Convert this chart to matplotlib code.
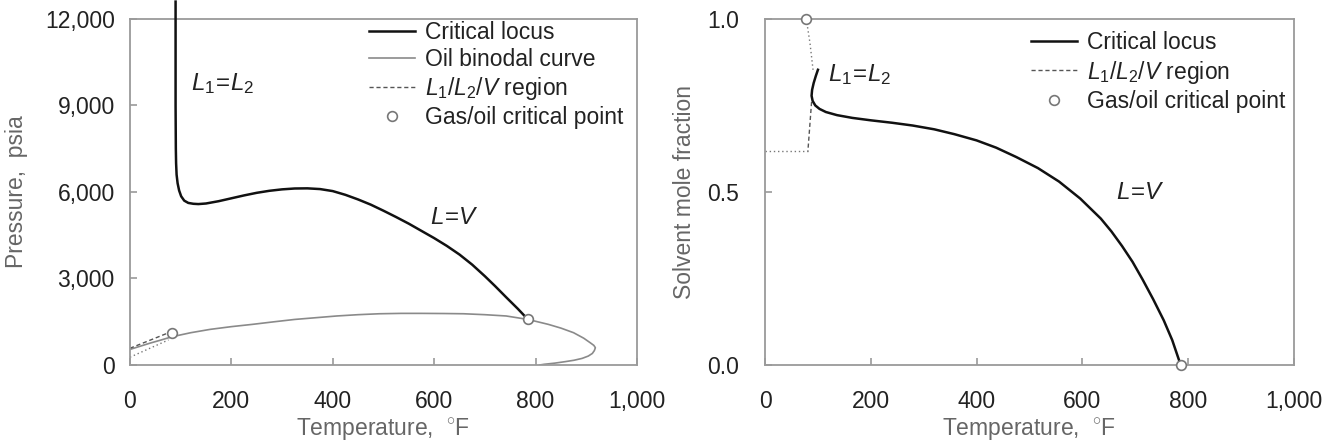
import numpy as np
import matplotlib
matplotlib.use("Agg")
import matplotlib.pyplot as plt
from matplotlib.ticker import FuncFormatter

plt.rcParams['font.family'] = ['Liberation Sans', 'DejaVu Sans']
plt.rcParams['mathtext.fontset'] = 'custom'
plt.rcParams['mathtext.rm'] = 'Liberation Sans'
plt.rcParams['mathtext.it'] = 'Liberation Sans:italic'

# Pressure-temperature projection
pt_locus_T = [90, 90, 90, 90.5, 91, 92, 94, 97, 101, 107, 115, 125, 135, 150, 175, 200, 225,
              250, 275, 300, 325, 350, 375, 400, 425, 450, 475, 500, 525, 550, 575, 600,
              625, 650, 675, 700, 720, 742, 765, 785]
pt_locus_P = [12600, 11000, 9000, 7500, 7000, 6600, 6300, 6050, 5850, 5700, 5620, 5590, 5580,
              5600, 5680, 5780, 5880, 5970, 6040, 6090, 6120, 6125, 6100, 6030, 5900, 5740,
              5560, 5350, 5130, 4900, 4650, 4400, 4130, 3830, 3480, 3080, 2740, 2350, 1950, 1580]

binodal_T = [0, 20, 40, 60, 83, 120, 158, 200, 242, 285, 325, 370, 408, 450, 492, 535, 575,
             620, 658, 700, 742, 785, 825, 850, 875, 895, 908, 915, 918, 916, 912, 904, 892,
             876, 858, 838, 817, 808]
binodal_P = [540, 650, 760, 860, 980, 1120, 1235, 1330, 1410, 1500, 1580, 1645, 1700, 1745,
             1777, 1790, 1790, 1785, 1777, 1745, 1700, 1580, 1410, 1280, 1120, 930, 770, 680,
             600, 500, 400, 310, 230, 165, 115, 65, 25, 0]

pt_three_phase_T = [0, 82]
pt_three_phase_P = [580, 1160]
pt_three_phase_dot_T = [0, 76]
pt_three_phase_dot_P = [270, 870]

pt_crit_T = [82, 785]
pt_crit_P = [1100, 1580]

# Composition-temperature projection
xt_locus_T = [100, 96, 92, 89, 88, 90, 95, 103, 115, 136, 165, 200, 240, 279, 320, 358, 400,
              437, 475, 516, 556, 596, 635, 655, 675, 695, 714, 734, 754, 770, 786]
xt_locus_x = [0.853, 0.835, 0.815, 0.795, 0.778, 0.763, 0.750, 0.740, 0.731, 0.722, 0.714,
              0.707, 0.700, 0.692, 0.681, 0.667, 0.649, 0.628, 0.601, 0.569, 0.530, 0.481,
              0.423, 0.386, 0.344, 0.298, 0.247, 0.190, 0.129, 0.072, 0.0]

xt_dotted_T = [78, 85, 91]
xt_dotted_x = [1.0, 0.93, 0.85]
xt_dashed_T = [88, 81]
xt_dashed_x = [0.76, 0.617]
xt_flat_T = [0, 81]
xt_flat_x = [0.617, 0.617]

xt_crit_T = [78, 786]
xt_crit_x = [1.0, 0.0]

spine_col = '#9a9a9a'
text_col = '#222222'
label_col = '#666666'
fs = 16.5

fig = plt.figure(figsize=(13.22, 4.46), dpi=100)
ax1 = fig.add_axes([0.0983, 0.1816, 0.3835, 0.776])
ax2 = fig.add_axes([0.5787, 0.1816, 0.4000, 0.776])

for ax in (ax1, ax2):
    for s in ax.spines.values():
        s.set_color(spine_col)
        s.set_linewidth(1.3)
    ax.tick_params(direction='in', colors=spine_col, labelcolor=text_col,
                   labelsize=fs, length=5, width=1.2)
    ax.tick_params(axis='x', pad=18)
    ax.set_xlim(0, 1000)
    ax.set_xticks([0, 200, 400, 600, 800, 1000])
    ax.xaxis.set_major_formatter(FuncFormatter(lambda v, p: f"{int(v):,}"))
    ax.set_xlabel(r"Temperature,  $^{\circ}$F", fontsize=fs, color=label_col, labelpad=2)

# left panel
ax1.plot(pt_locus_T, pt_locus_P, color='#111111', lw=1.8, label='Critical locus',
         clip_on=False, zorder=3, solid_joinstyle='round')
ax1.plot(binodal_T, binodal_P, color='#8a8a8a', lw=1.2, label='Oil binodal curve')
ax1.plot(pt_three_phase_T, pt_three_phase_P, color='#555555', lw=1.0, ls=(0, (3, 2)),
         label=r'$L_1$/$L_2$/$V$ region')
ax1.plot(pt_three_phase_dot_T, pt_three_phase_dot_P, color='#777777', lw=1.0, ls=(0, (1, 2)))
ax1.plot(pt_crit_T, pt_crit_P, ls='none', marker='o', ms=7, mfc='white', mec='#777777',
         mew=1.2, label='Gas/oil critical point', zorder=4)
ax1.set_ylim(0, 12000)
ax1.set_yticks([0, 3000, 6000, 9000, 12000])
ax1.yaxis.set_major_formatter(FuncFormatter(lambda v, p: f"{int(v):,}"))
ax1.tick_params(axis='y', pad=11)
ax1.set_ylabel("Pressure,  psia", fontsize=fs, color=label_col, labelpad=12)
ax1.text(121, 9770, r"$L_1\!=\!L_2$", fontsize=fs + 1, va='center', color=text_col)
ax1.text(592, 5100, r"$L\!=\!V$", fontsize=fs + 1, va='center', color=text_col)
ax1.legend(loc='upper right', bbox_to_anchor=(1.0, 1.035), frameon=False, fontsize=fs,
           labelcolor=text_col, handlelength=2.0, handletextpad=0.45, labelspacing=0.18,
           borderaxespad=0.2)

# right panel
ax2.plot(xt_locus_T, xt_locus_x, color='#111111', lw=1.8, label='Critical locus', zorder=3,
         solid_joinstyle='round')
ax2.plot(xt_dashed_T, xt_dashed_x, color='#555555', lw=1.0, ls=(0, (3, 2)),
         label=r'$L_1$/$L_2$/$V$ region')
ax2.plot(xt_dotted_T, xt_dotted_x, color='#777777', lw=1.0, ls=(0, (1, 2)))
ax2.plot(xt_flat_T, xt_flat_x, color='#777777', lw=1.0, ls=(0, (1, 2)))
ax2.plot(xt_crit_T, xt_crit_x, ls='none', marker='o', ms=7, mfc='white', mec='#777777',
         mew=1.2, label='Gas/oil critical point', clip_on=False, zorder=4)
ax2.set_ylim(0, 1.0)
ax2.set_yticks([0.0, 0.5, 1.0])
ax2.yaxis.set_major_formatter(FuncFormatter(lambda v, p: f"{v:.1f}"))
ax2.tick_params(axis='y', pad=19)
ax2.set_ylabel("Solvent mole fraction", fontsize=fs, color=label_col, labelpad=8)
ax2.text(120, 0.838, r"$L_1\!=\!L_2$", fontsize=fs + 1, va='center', color=text_col)
ax2.text(663, 0.496, r"$L\!=\!V$", fontsize=fs + 1, va='center', color=text_col)
ax2.legend(loc='upper right', bbox_to_anchor=(1.01, 1.005), frameon=False, fontsize=fs,
           labelcolor=text_col, handlelength=2.0, handletextpad=0.45, labelspacing=0.2,
           borderaxespad=0.2)

fig.savefig("out.png", dpi=100)
